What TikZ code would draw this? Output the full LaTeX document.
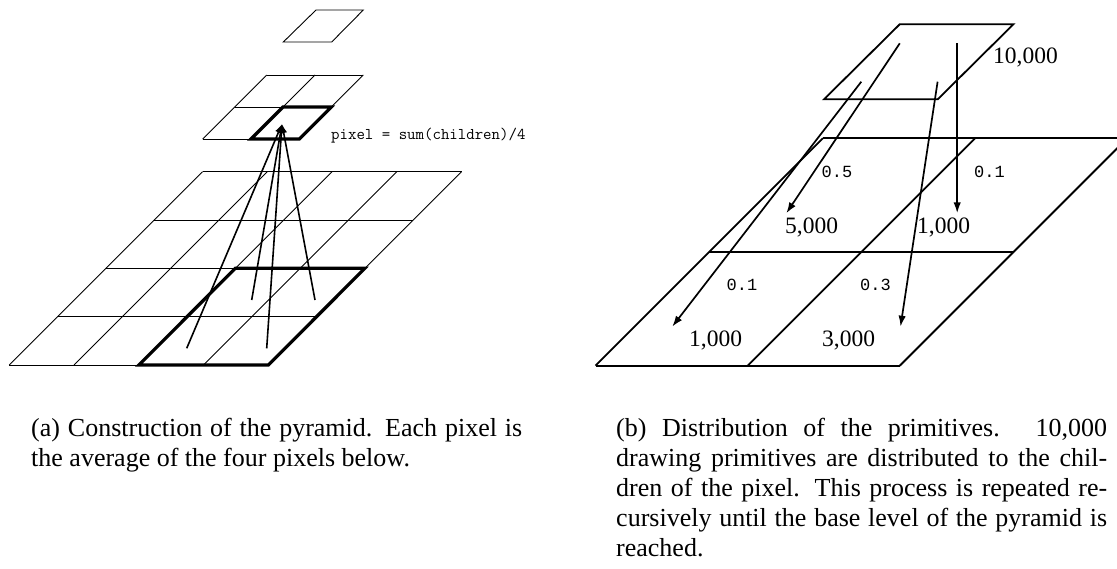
\documentclass[tikz,border=0pt]{standalone}
\usepackage{fontspec}
\setmainfont{Liberation Serif}
\newfontfamily\numtt{Liberation Mono}
\usetikzlibrary{arrows.meta}
\begin{document}
\begin{tikzpicture}[x=1pt,y=-1pt,
  thingrid/.style={line width=0.9pt},
  thickcell/.style={line width=3.2pt, line join=miter},
  uparrow/.style={line width=1.6pt, -{Latex[length=9pt,width=7pt]}},
  distarrow/.style={line width=1.7pt, -{Latex[length=11pt,width=7.5pt]}},
  plane/.style={line width=1.8pt, line join=miter},
  countlbl/.style={anchor=base west, inner sep=0pt, font=\fontsize{23.5}{28}\selectfont},
  weightlbl/.style={anchor=base west, inner sep=0pt, font=\numtt\fontsize{17}{20}\selectfont},
  formula/.style={anchor=base west, inner sep=0pt, font=\ttfamily\fontsize{16.4}{20}\selectfont},
  caption/.style={anchor=base west, inner sep=0pt, font=\fontsize{26}{30}\selectfont}
]
\clip (0,0) rectangle (1117,568);
\fill[white] (0,0) rectangle (1117,568);

% ---------------- (a) construction of the pyramid ----------------
% top level: one pixel
\draw[thingrid] (283.3,42) -- (331.7,42) -- (363.3,10) -- (316,10) -- cycle;
% middle level: 2x2
\foreach \j in {0,1,2} {
  \draw[thingrid] ({202.7+32*\j},{139-32*\j}) -- ({299.3+32*\j},{139-32*\j});
}
\foreach \i in {0,1,2} {
  \draw[thingrid] ({202.7+48.3*\i},139) -- ({266.7+48.3*\i},75);
}
\draw[thickcell] (251,139) -- (299.3,139) -- (331.3,107) -- (283,107) -- cycle;
% bottom level: 4x4
\foreach \j in {0,...,4} {
  \draw[thingrid] ({9.3+48.33*\j},{365-48.33*\j}) -- ({268.3+48.33*\j},{365-48.33*\j});
}
\foreach \i in {0,...,4} {
  \draw[thingrid] ({9.3+64.75*\i},365) -- ({202.6+64.75*\i},171.7);
}
\draw[thickcell] (138.8,365) -- (268.3,365) -- (364.9,268.3) -- (235.4,268.3) -- cycle;
% arrows from the four children to the parent pixel
\coordinate (apex) at (282,124);
\coordinate (c1) at (186.7,348.3);
\coordinate (c2) at (266.7,348.3);
\coordinate (c3) at (251.7,300);
\coordinate (c4) at (315,300);
\foreach \c in {c1,c2,c3,c4} { \draw[uparrow] (\c) -- (apex); }
\node[formula] (formula) at (331,139) {pixel = sum(children)/4};

% ---------------- (b) distribution of the primitives ----------------
\draw[plane] (824,99.3) -- (937.7,99.3) -- (1013.4,24.3) -- (899.7,24.3) -- cycle;
\foreach \j in {0,1,2} {
  \draw[plane] ({595.5+113.7*\j},{365.7-113.7*\j}) -- ({899.8+113.7*\j},{365.7-113.7*\j});
}
\foreach \i in {0,1,2} {
  \draw[plane] ({595.5+152.15*\i},365.7) -- ({822.9+152.15*\i},138.3);
}
\coordinate (s1) at (899.8,43.3);
\coordinate (t1) at (786.3,213.3);
\coordinate (s2) at (861.3,81.7);
\coordinate (t2) at (672.2,326.7);
\coordinate (s3) at (957.2,43.3);
\coordinate (t3) at (957.2,213.3);
\coordinate (s4) at (937.6,81.7);
\coordinate (t4) at (900.5,326.7);
\draw[distarrow] (s1) -- (t1);
\draw[distarrow] (s2) -- (t2);
\draw[distarrow] (s3) -- (t3);
\draw[distarrow] (s4) -- (t4);

\node[countlbl] (n10000) at (993,63.3) {10,000};
\node[countlbl] (n5000) at (785,233) {5,000};
\node[countlbl] (n1000a) at (917,233) {1,000};
\node[countlbl] (n1000b) at (689,346.7) {1,000};
\node[countlbl] (n3000) at (822,346.7) {3,000};

\node[weightlbl] (w05) at (821.5,177) {0.5};
\node[weightlbl] (w01a) at (974,177) {0.1};
\node[weightlbl] (w01b) at (726.5,290) {0.1};
\node[weightlbl] (w03) at (860,290) {0.3};

% ---------------- captions ----------------
\node[caption] (capa) at (31,436) {\parbox[t]{491pt}{\fontsize{26}{30}\selectfont
  \makebox[491pt][s]{(a) Construction of the pyramid. Each pixel is}\\
  the average of the four pixels below.}};
\node[caption] (capb) at (616,436) {\parbox[t]{491pt}{\fontsize{26}{30}\selectfont
  \makebox[491pt][s]{(b) Distribution of the primitives. 10,000}\\
  \makebox[491pt][s]{drawing primitives are distributed to the chil-}\\
  \makebox[491pt][s]{dren of the pixel. This process is repeated re-}\\
  \makebox[491pt][s]{cursively until the base level of the pyramid is}\\
  reached.}};
\end{tikzpicture}
\end{document}
